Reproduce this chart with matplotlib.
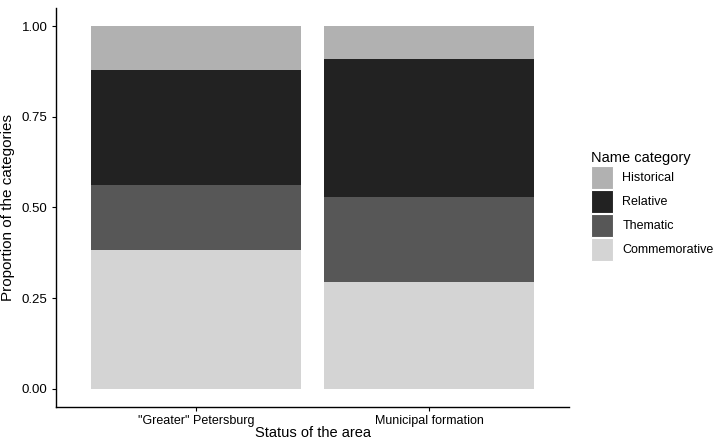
#!/usr/bin/env python3
"""Stacked proportion bars of street-name categories by area status."""
import matplotlib
matplotlib.use("Agg")
import matplotlib.pyplot as plt
from matplotlib.patches import Patch

plt.rcParams["font.family"] = ["Liberation Sans", "DejaVu Sans"]

areas = ['"Greater" Petersburg', "Municipal formation"]
# stacked bottom -> top
categories = ["Commemorative", "Thematic", "Relative", "Historical"]
commemorative = [0.384, 0.294]
thematic = [0.179, 0.234]
relative = [0.315, 0.380]
historical = [0.122, 0.092]
colors = {"Commemorative": "#d4d4d4", "Thematic": "#575757",
          "Relative": "#222222", "Historical": "#b1b1b1"}
legend_order = ["Historical", "Relative", "Thematic", "Commemorative"]

fig = plt.figure(figsize=(7.16, 4.40), dpi=100)
ax = fig.add_axes([0.078, 0.075, 0.717, 0.907])

x = [1, 2]
bottom = [0.0, 0.0]
for name, vals in zip(categories, [commemorative, thematic, relative, historical]):
    ax.bar(x, vals, width=0.9, bottom=bottom, color=colors[name], edgecolor="none")
    bottom = [b + v for b, v in zip(bottom, vals)]

ax.set_xlim(0.4, 2.6)
ax.set_ylim(-0.05, 1.05)
ax.set_xticks(x)
ax.set_xticklabels(areas, fontsize=9)
ax.set_yticks([0, 0.25, 0.5, 0.75, 1.0])
ax.set_yticklabels(["0.00", "0.25", "0.50", "0.75", "1.00"], fontsize=9.5)
ax.tick_params(length=3, width=0.8, colors="black", pad=3)
for s in ["top", "right"]:
    ax.spines[s].set_visible(False)
for s in ["left", "bottom"]:
    ax.spines[s].set_linewidth(1.0)
ax.set_ylabel("Proportion of the categories", fontsize=11, labelpad=5)
ax.set_xlabel("Status of the area", fontsize=10.5, labelpad=-1)

handles = [Patch(facecolor=colors[n], edgecolor="white", linewidth=0.8) for n in legend_order]
leg = fig.legend(handles, legend_order, loc="upper left", bbox_to_anchor=(0.819, 0.668),
                 frameon=False, title="Name category", fontsize=9, title_fontsize=10.5,
                 handlelength=1.76, handleheight=2.45, labelspacing=0.08,
                 handletextpad=0.72, borderaxespad=0)
leg._legend_box.align = "left"

fig.savefig("out.png", dpi=100)
